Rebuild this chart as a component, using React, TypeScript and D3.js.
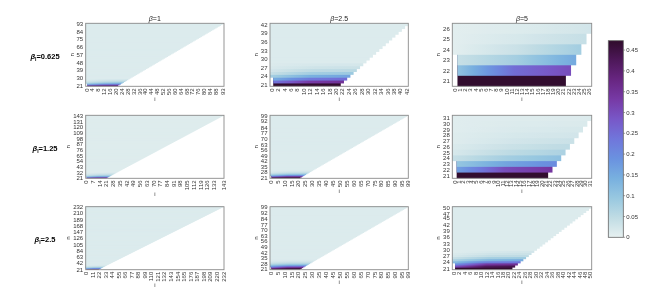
import React, { useEffect, useRef } from "react";
import * as d3 from "d3";

// panel grid: rows = beta_I, columns = beta
const betaLabels = ["1", "2.5", "5"];
const betaILabels = ["0.625", "1.25", "2.5"];
const nMin = 21;
const nMax = [
  [93, 42, 26],
  [143, 99, 31],
  [232, 99, 50],
];
const firstFullRow = 24; // rows below this have no i=0 cell

const xTicks = [
  [
    [0, 4, 8, 12, 16, 20, 24, 28, 32, 36, 40, 44, 48, 52, 56, 60, 64, 68, 72, 76, 80, 84, 88, 93],
    [0, 2, 4, 6, 8, 10, 12, 14, 16, 18, 20, 22, 24, 26, 28, 30, 32, 34, 36, 38, 40, 42],
    [0, 1, 2, 3, 4, 5, 6, 7, 8, 9, 10, 11, 12, 13, 14, 15, 16, 17, 18, 19, 20, 21, 22, 23, 24, 25, 26],
  ],
  [
    [0, 7, 14, 21, 28, 35, 42, 49, 56, 63, 70, 77, 84, 91, 98, 105, 112, 119, 126, 133, 143],
    [0, 5, 10, 15, 20, 25, 30, 35, 40, 45, 50, 55, 60, 65, 70, 75, 80, 85, 90, 95, 99],
    [0, 1, 2, 3, 4, 5, 6, 7, 8, 9, 10, 11, 12, 13, 14, 15, 16, 17, 18, 19, 20, 21, 22, 23, 24, 25, 26, 27, 28, 29, 30, 31],
  ],
  [
    [0, 11, 22, 33, 44, 55, 66, 77, 88, 99, 110, 121, 132, 143, 154, 165, 176, 187, 198, 209, 220, 232],
    [0, 5, 10, 15, 20, 25, 30, 35, 40, 45, 50, 55, 60, 65, 70, 75, 80, 85, 90, 95, 99],
    [0, 2, 4, 6, 8, 10, 12, 14, 16, 18, 20, 22, 24, 26, 28, 30, 32, 34, 36, 38, 40, 42, 44, 46, 48, 50],
  ],
];

const yTicks = [
  [
    [21, 30, 39, 48, 57, 66, 75, 84, 93],
    [21, 24, 27, 30, 33, 36, 39, 42],
    [21, 22, 23, 24, 25, 26],
  ],
  [
    [21, 32, 43, 54, 65, 76, 87, 98, 109, 120, 131, 143],
    [21, 28, 35, 42, 49, 56, 63, 70, 77, 84, 92, 99],
    [21, 22, 23, 24, 25, 26, 27, 28, 29, 30, 31],
  ],
  [
    [21, 42, 63, 84, 105, 126, 147, 168, 189, 210, 232],
    [21, 28, 35, 42, 49, 56, 63, 70, 77, 84, 92, 99],
    [21, 24, 27, 30, 33, 36, 39, 42, 45, 47, 50],
  ],
];

// [value at first i, value at middle, value at i = n] for n = 21, 22, ...
const rowProfiles = [
  [
    [[0.38, 0.41, 0.42], [0.2, 0.28, 0.3], [0.12, 0.18, 0.2], [0.07, 0.11, 0.13], [0.04, 0.07, 0.09], [0.03, 0.05, 0.06], [0.02, 0.035, 0.04], [0.015, 0.025, 0.03]],
    [[0.47, 0.47, 0.47], [0.24, 0.33, 0.35], [0.15, 0.23, 0.25], [0.08, 0.14, 0.16], [0.04, 0.08, 0.09], [0.025, 0.05, 0.055], [0.018, 0.03, 0.035], [0.014, 0.02, 0.022]],
    [[0.47, 0.47, 0.47], [0.11, 0.25, 0.3], [0.04, 0.08, 0.15], [0.005, 0.035, 0.08], [0.005, 0.02, 0.04], [0.005, 0.012, 0.025]],
  ],
  [
    [[0.4, 0.42, 0.42], [0.22, 0.3, 0.31], [0.14, 0.2, 0.21], [0.09, 0.14, 0.15], [0.06, 0.1, 0.11], [0.04, 0.07, 0.08], [0.03, 0.05, 0.055], [0.025, 0.04, 0.045], [0.02, 0.03, 0.033], [0.015, 0.024, 0.026], [0.012, 0.019, 0.02]],
    [[0.47, 0.47, 0.47], [0.32, 0.4, 0.41], [0.2, 0.29, 0.3], [0.12, 0.19, 0.2], [0.08, 0.12, 0.13], [0.05, 0.08, 0.085], [0.03, 0.05, 0.055], [0.02, 0.035, 0.037], [0.016, 0.025, 0.026], [0.013, 0.018, 0.019]],
    [[0.47, 0.47, 0.47], [0.17, 0.3, 0.34], [0.1, 0.16, 0.2], [0.04, 0.08, 0.11], [0.02, 0.05, 0.07], [0.015, 0.035, 0.05], [0.01, 0.025, 0.035], [0.01, 0.02, 0.025], [0.008, 0.015, 0.02], [0.008, 0.012, 0.015], [0.008, 0.01, 0.012]],
  ],
  [
    [[0.4, 0.42, 0.42], [0.3, 0.37, 0.38], [0.22, 0.29, 0.3], [0.17, 0.23, 0.24], [0.13, 0.18, 0.19], [0.1, 0.14, 0.15], [0.08, 0.11, 0.12], [0.06, 0.085, 0.09], [0.05, 0.065, 0.07], [0.04, 0.052, 0.055], [0.03, 0.042, 0.045], [0.025, 0.033, 0.035], [0.02, 0.027, 0.03], [0.017, 0.022, 0.025], [0.014, 0.018, 0.02]],
    [[0.47, 0.47, 0.47], [0.38, 0.44, 0.45], [0.28, 0.37, 0.38], [0.2, 0.29, 0.3], [0.14, 0.21, 0.22], [0.1, 0.14, 0.15], [0.07, 0.1, 0.1], [0.05, 0.07, 0.07], [0.035, 0.05, 0.05], [0.025, 0.035, 0.035], [0.018, 0.025, 0.025], [0.014, 0.02, 0.02]],
    [[0.47, 0.47, 0.47], [0.3, 0.42, 0.44], [0.2, 0.34, 0.36], [0.12, 0.22, 0.24], [0.07, 0.13, 0.15], [0.04, 0.08, 0.09], [0.02, 0.045, 0.05], [0.015, 0.03, 0.035], [0.01, 0.02, 0.025]],
  ],
];

const bgValue = [
  [0.012, 0.012, 0.01],
  [0.01, 0.012, 0.008],
  [0.012, 0.012, 0.012],
];

// colour map (pale cyan -> blue -> purple -> dark plum)
const cMax = 0.4726;
const cmapStops = [0, 0.1, 0.2, 0.3, 0.4, 0.5, 0.6, 0.7, 0.8, 0.9, 1];
const cmapColors = ["#e6f0f0", "#c0dce4", "#98c8e0", "#78b0df", "#6a92e0", "#7076db", "#7858c8", "#773aa6", "#682682", "#4e185a", "#300c2c"];
const cbarTicks = [0, 0.05, 0.1, 0.15, 0.2, 0.25, 0.3, 0.35, 0.4, 0.45];

const colX = [85.7, 270, 452.3];
const colW = [138.3, 138.3, 139.4];
const rowY = [23.3, 115.3, 206.7];
const panelH = 63;

const font = "'Liberation Sans', Arial, Helvetica, sans-serif";
const tickColor = "#333333";

export default function App() {
  const ref = useRef<SVGSVGElement>(null);

  useEffect(() => {
    const svg = d3.select(ref.current);
    svg.selectAll("*").remove();
    const defs = svg.append("defs");

    const color = d3
      .scaleLinear<string>()
      .domain(cmapStops.map((t) => t * cMax))
      .range(cmapColors)
      .interpolate(d3.interpolateRgb)
      .clamp(true);

    let gid = 0;

    betaILabels.forEach((bi, r) => {
      // row label
      const rl = svg
        .append("text")
        .attr("x", 45)
        .attr("y", rowY[r] + panelH / 2 + 4)
        .attr("text-anchor", "middle")
        .attr("font-family", font)
        .attr("font-weight", "bold")
        .attr("font-size", 7.5)
        .attr("fill", "#000");
      rl.append("tspan").attr("font-style", "italic").text("β");
      rl.append("tspan").attr("font-size", 5).attr("dy", 1.8).text("I");
      rl.append("tspan").attr("dy", -1.8).text("=" + bi);

      betaLabels.forEach((b, c) => {
        const N = nMax[r][c];
        const left = colX[c];
        const w = colW[c];
        const top = rowY[r];
        const h = panelH;
        const g = svg.append("g");

        const iDom = d3.range(0, N + 1);
        const nDom = d3.range(nMin, N + 1);
        const x = d3.scaleBand<number>().domain(iDom).range([left, left + w]);
        const y = d3.scaleBand<number>().domain(nDom).range([top + h, top]);
        const bw = x.bandwidth();
        const bh = y.bandwidth();
        const prof = rowProfiles[r][c];

        // cells: one band per row n, i from first cell up to i = n
        nDom.forEach((n, k) => {
          const i0 = n < firstFullRow ? 1 : 0;
          const x0 = x(i0)!;
          const x1 = x(n)! + bw;
          const yb = y(n)! + bh;
          let fill: string;
          if (k < prof.length) {
            const [a, m, z] = prof[k];
            const id = "rg" + gid++;
            const lg = defs
              .append("linearGradient")
              .attr("id", id)
              .attr("gradientUnits", "userSpaceOnUse")
              .attr("x1", x0 + bw / 2)
              .attr("x2", x1 - bw / 2)
              .attr("y1", 0)
              .attr("y2", 0);
            const vAt = d3.scaleLinear().domain([0, 0.5, 1]).range([a, m, z]);
            d3.range(0, 1.0001, 0.125).forEach((t) =>
              lg.append("stop").attr("offset", t).attr("stop-color", color(vAt(t)))
            );
            fill = `url(#${id})`;
          } else {
            fill = color(bgValue[r][c]);
          }
          // extend up to panel top so rows above cover it (no seams)
          g.append("rect")
            .attr("x", x0)
            .attr("y", top)
            .attr("width", x1 - x0)
            .attr("height", yb - top)
            .attr("fill", fill);
        });

        // frame
        g.append("rect")
          .attr("x", left)
          .attr("y", top)
          .attr("width", w)
          .attr("height", h)
          .attr("fill", "none")
          .attr("stroke", "#8a8a8a")
          .attr("stroke-width", 0.9);

        // x tick labels (rotated)
        g.selectAll(".xt")
          .data(xTicks[r][c])
          .join("text")
          .attr("class", "xt")
          .attr("transform", (d) => `translate(${x(d)! + bw / 2},${top + h + 2}) rotate(-90)`)
          .attr("text-anchor", "end")
          .attr("dy", "0.35em")
          .attr("font-family", font)
          .attr("font-size", 6)
          .attr("fill", tickColor)
          .text((d) => d);

        // y tick labels
        g.selectAll(".yt")
          .data(yTicks[r][c])
          .join("text")
          .attr("class", "yt")
          .attr("x", left - 2.5)
          .attr("y", (d) => y(d)! + bh / 2)
          .attr("text-anchor", "end")
          .attr("dy", "0.35em")
          .attr("font-family", font)
          .attr("font-size", 6)
          .attr("fill", tickColor)
          .text((d) => d);

        const digitW = 0.556 * 6;
        const xLabW = d3.max(xTicks[r][c], (d) => String(d).length)! * digitW;
        const yLabW = d3.max(yTicks[r][c], (d) => String(d).length)! * digitW;

        g.append("text")
          .attr("x", left + w / 2)
          .attr("y", top + h + 2 + xLabW + 3.5)
          .attr("dy", "0.35em")
          .attr("text-anchor", "middle")
          .attr("font-family", font)
          .attr("font-size", 6)
          .attr("fill", tickColor)
          .text("i");

        g.append("text")
          .attr("transform", `translate(${left - 2.5 - yLabW - 5},${top + h / 2}) rotate(-90)`)
          .attr("dy", "0.35em")
          .attr("text-anchor", "middle")
          .attr("font-family", font)
          .attr("font-size", 6)
          .attr("fill", tickColor)
          .text("n");

        if (r === 0) {
          const t = svg
            .append("text")
            .attr("x", left + w / 2)
            .attr("y", top - 2.5)
            .attr("text-anchor", "middle")
            .attr("font-family", font)
            .attr("font-size", 7)
            .attr("fill", "#1a1a1a");
          t.append("tspan").attr("font-style", "italic").text("β");
          t.append("tspan").text("=" + b);
        }
      });
    });

    // colour bar
    const cbX = 608.3;
    const cbW = 15;
    const cbTop = 40.7;
    const cbBot = 237.3;
    const cg = defs
      .append("linearGradient")
      .attr("id", "cbar")
      .attr("x1", 0)
      .attr("y1", 1)
      .attr("x2", 0)
      .attr("y2", 0);
    cmapStops.forEach((t, k) => cg.append("stop").attr("offset", t).attr("stop-color", cmapColors[k]));

    svg.append("rect")
      .attr("x", cbX)
      .attr("y", cbTop)
      .attr("width", cbW)
      .attr("height", cbBot - cbTop)
      .attr("fill", "url(#cbar)")
      .attr("stroke", "#666")
      .attr("stroke-width", 0.8);

    const cy = d3.scaleLinear().domain([0, cMax]).range([cbBot, cbTop]);
    const ct = svg.append("g");
    ct.selectAll("line")
      .data(cbarTicks)
      .join("line")
      .attr("x1", cbX + cbW)
      .attr("x2", cbX + cbW + 1.8)
      .attr("y1", (d) => cy(d))
      .attr("y2", (d) => cy(d))
      .attr("stroke", "#666")
      .attr("stroke-width", 0.6);
    ct.selectAll("text")
      .data(cbarTicks)
      .join("text")
      .attr("x", cbX + cbW + 3)
      .attr("y", (d) => cy(d))
      .attr("dy", "0.35em")
      .attr("font-family", font)
      .attr("font-size", 6)
      .attr("fill", tickColor)
      .text((d) => String(d));
  }, []);

  return (
    <svg
      ref={ref}
      width={654}
      height={307}
      style={{ position: "absolute", left: 0, top: 0, background: "#fff", willChange: "transform" }}
    />
  );
}
